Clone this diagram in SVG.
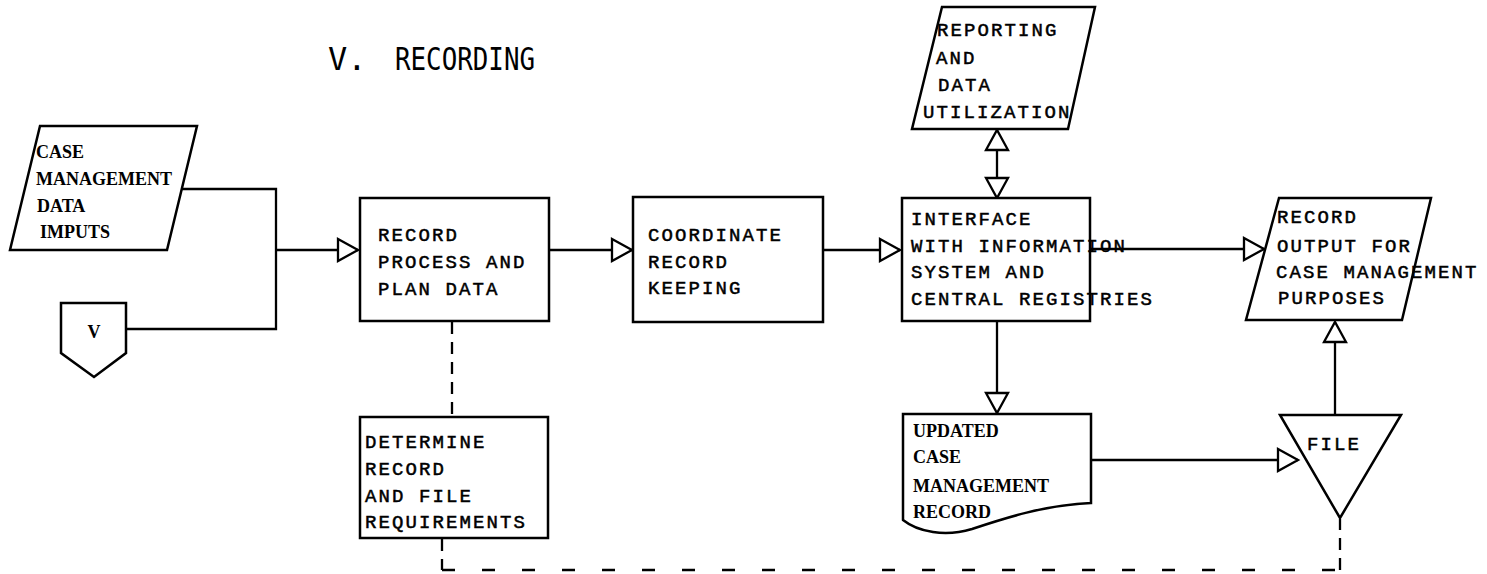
<svg xmlns="http://www.w3.org/2000/svg" width="1487" height="574" viewBox="0 0 1487 574">
<style>
.bg{fill:#fff}
.shape{fill:#fff;stroke:#000;stroke-width:2.5;stroke-linejoin:miter}
.line{fill:none;stroke:#000;stroke-width:2.3}
.dashh{fill:none;stroke:#000;stroke-width:2.3;stroke-dasharray:13 27}
.dashv{fill:none;stroke:#000;stroke-width:2.3;stroke-dasharray:12 8}
.mono{font-family:"Liberation Mono","Courier New",monospace;font-size:19px;letter-spacing:2.1px;fill:#000;stroke:#000;stroke-width:0.5}
.serif{font-family:"Liberation Serif","Times New Roman",serif;font-size:18px;font-weight:bold;fill:#000}
.title{font-family:"DejaVu Sans Mono","Liberation Mono",monospace;font-size:32px;fill:#000}
</style>
<defs>
<marker id="arr" markerUnits="userSpaceOnUse" markerWidth="26" markerHeight="28" viewBox="-3 -14 26 28" refX="20" refY="0" orient="auto-start-reverse">
<path d="M0,-11 L20,0 L0,11 Z" fill="#fff" stroke="#000" stroke-width="2.3"/>
</marker>
</defs>
<rect class="bg" x="0" y="0" width="1487" height="574"/>

<g id="title">
<text class="title" x="328" y="70">V.</text>
<text class="title" x="395" y="70" textLength="140" lengthAdjust="spacingAndGlyphs">RECORDING</text>
</g>

<g id="connectors">
<polyline class="line" points="182,189 276,189 276,329 126,329"/>
<line class="line" x1="276" y1="250" x2="358" y2="250" marker-end="url(#arr)"/>
<line class="line" x1="549" y1="250" x2="632" y2="250" marker-end="url(#arr)"/>
<line class="line" x1="823" y1="250" x2="900" y2="250" marker-end="url(#arr)"/>
<line class="line" x1="997" y1="198" x2="997" y2="130" marker-start="url(#arr)" marker-end="url(#arr)"/>
<line class="line" x1="1090" y1="249" x2="1264" y2="249" marker-end="url(#arr)"/>
<line class="line" x1="997" y1="321" x2="997" y2="413" marker-end="url(#arr)"/>
<line class="line" x1="1091" y1="460" x2="1298" y2="460" marker-end="url(#arr)"/>
<line class="line" x1="1335" y1="415" x2="1335" y2="322" marker-end="url(#arr)"/>
<line class="dashv" x1="452" y1="322" x2="452" y2="416"/>
<polyline class="dashv" points="442,539 442,570"/>
<line class="dashh" x1="442" y1="570" x2="1340" y2="570"/>
<polyline class="dashv" points="1340,570 1340,519"/>
</g>

<g id="case-management-data-imputs">
<polygon class="shape" points="40,126 197,126 167,250 10,250"/>
<text class="serif" x="36" y="158">CASE</text>
<text class="serif" x="36" y="185">MANAGEMENT</text>
<text class="serif" x="37" y="212">DATA</text>
<text class="serif" x="40" y="238">IMPUTS</text>
</g>

<g id="offpage-v">
<polygon class="shape" points="61,303 126,303 126,353 94,377 61,353"/>
<text class="serif" x="94" y="338" text-anchor="middle">V</text>
</g>

<g id="record-process">
<rect class="shape" x="360" y="198" width="189" height="123"/>
<text class="mono" x="378" y="241">RECORD</text>
<text class="mono" x="378" y="268">PROCESS AND</text>
<text class="mono" x="378" y="295">PLAN DATA</text>
</g>

<g id="coordinate">
<rect class="shape" x="633" y="197" width="190" height="125"/>
<text class="mono" x="648" y="241">COORDINATE</text>
<text class="mono" x="648" y="268">RECORD</text>
<text class="mono" x="648" y="294">KEEPING</text>
</g>

<g id="interface">
<rect class="shape" x="902" y="198" width="188" height="123"/>
<text class="mono" x="911" y="225">INTERFACE</text>
<text class="mono" x="911" y="252">WITH INFORMATION</text>
<text class="mono" x="911" y="278">SYSTEM AND</text>
<text class="mono" x="911" y="305">CENTRAL REGISTRIES</text>
</g>

<g id="reporting">
<polygon class="shape" points="942,7 1095,7 1068,129 912,129"/>
<text class="mono" x="937" y="36">REPORTING</text>
<text class="mono" x="936" y="64">AND</text>
<text class="mono" x="938" y="91">DATA</text>
<text class="mono" x="923" y="118">UTILIZATION</text>
</g>

<g id="record-output">
<polygon class="shape" points="1279,198 1431,198 1402,320 1246,320"/>
<text class="mono" x="1277" y="223">RECORD</text>
<text class="mono" x="1277" y="252">OUTPUT FOR</text>
<text class="mono" x="1276" y="278">CASE MANAGEMENT</text>
<text class="mono" x="1278" y="304">PURPOSES</text>
</g>

<g id="determine">
<rect class="shape" x="360" y="417" width="188" height="121"/>
<text class="mono" x="365" y="448">DETERMINE</text>
<text class="mono" x="365" y="475">RECORD</text>
<text class="mono" x="365" y="502">AND FILE</text>
<text class="mono" x="365" y="528">REQUIREMENTS</text>
</g>

<g id="updated-record">
<path class="shape" d="M903,414 H1091 V503 C1045,505 1005,518 972,529 C945,537 918,532 903,520 Z"/>
<text class="serif" x="913" y="437">UPDATED</text>
<text class="serif" x="913" y="463">CASE</text>
<text class="serif" x="913" y="492">MANAGEMENT</text>
<text class="serif" x="913" y="518">RECORD</text>
</g>

<g id="file">
<polygon class="shape" points="1280,415 1401,415 1340,518"/>
<text class="mono" x="1307" y="450">FILE</text>
</g>
</svg>
